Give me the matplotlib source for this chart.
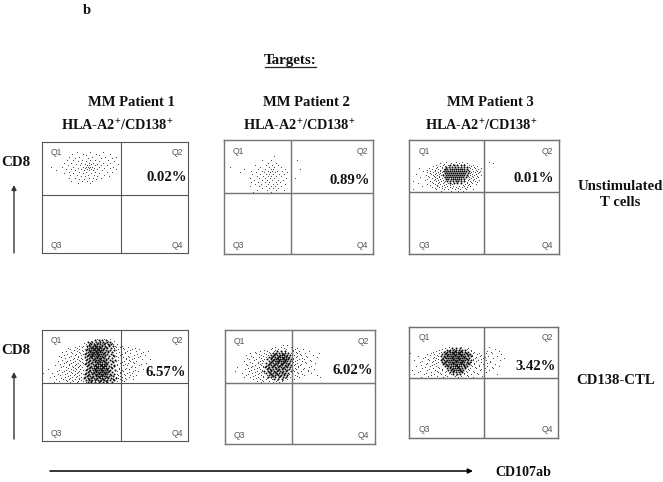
import matplotlib
matplotlib.use('Agg')
import matplotlib.pyplot as plt

W, H = 663, 482
plt.rcParams['font.family'] = ['Liberation Serif', 'DejaVu Serif']
plt.rcParams['mathtext.fontset'] = 'custom'
plt.rcParams['mathtext.rm'] = 'Liberation Serif:bold'
plt.rcParams['mathtext.default'] = 'rm'

# Dots, written row by row: height above panel bottom -> positions from panel left
p1_top_edge = {
    101: [35, 48, 61], 99: [30, 41, 54, 68], 98: [44, 57], 96: [27, 37, 50, 63, 74], 95: [33, 46, 59, 70],
    93: [25, 31, 40, 48, 53, 66], 92: [36, 44, 57, 72], 90: [22, 29, 39, 47, 51, 61, 68], 89: [34, 43, 49, 55, 76],
    88: [26, 38, 45, 47, 53, 59, 65], 86: [9, 20, 31, 41, 44, 46, 48, 50, 57, 71], 85: [36, 43, 47, 52, 62, 68],
    84: [24, 29, 39, 45, 49, 55, 74], 83: [14, 33, 42, 47, 51, 60], 81: [27, 37, 44, 53, 65, 70], 80: [22, 31, 41, 49, 57],
    78: [28, 35, 46, 52, 62], 77: [39, 43, 55, 67], 75: [27, 33, 47, 51, 59], 74: [37, 42, 54], 72: [29, 40, 45, 50], 70: [36, 48],
}
p2_top_edge = {
    98: [50], 94: [38, 47, 73], 91: [44, 52], 89: [31, 42, 48, 54], 87: [0, 6, 36, 45, 50, 57],
    85: [20, 34, 41, 47, 49, 61, 76], 83: [27, 38, 44, 48, 53, 58], 82: [16, 32, 40, 46, 51, 63],
    80: [28, 36, 42, 45, 49, 55, 60], 78: [0, 33, 39, 44, 47, 52, 57], 76: [26, 35, 41, 46, 50, 62, 71],
    74: [30, 38, 43, 48, 54, 59], 72: [27, 34, 41, 45, 52, 56], 70: [31, 37, 44, 49, 53, 61], 68: [26, 35, 42, 47, 51, 57],
    66: [38, 45, 49, 54], 64: [33, 43, 52, 60], 62: [29, 47],
}
p3_top_edge = {
    92: [37, 47, 53, 80], 91: [31, 42, 50, 58, 84], 90: [35, 44, 55], 89: [27, 34, 39, 44, 60, 64], 88: [0, 24, 31, 36, 62, 68],
    87: [28, 33, 60, 65], 86: [0, 10, 20, 27, 33, 37, 61, 66, 72], 85: [0, 23, 29, 35, 63, 69], 84: [18, 26, 31, 59, 67],
    83: [0, 14, 21, 26, 31, 34, 64, 68, 71], 82: [0, 18, 24, 29, 33, 62, 66, 70], 81: [21, 27, 31, 61, 69],
    80: [0, 7, 22, 26, 30, 34, 63, 67], 79: [0, 17, 24, 28, 32, 61, 65, 72], 78: [19, 25, 30, 59, 63, 68],
    77: [0, 11, 20, 26, 30, 35, 60, 64, 69], 76: [0, 23, 28, 33, 62, 67], 75: [18, 26, 31, 60, 65],
    74: [0, 16, 25, 29, 34, 59, 64, 70], 73: [0, 4, 21, 27, 32, 36, 61, 66], 72: [23, 30, 35, 58, 62, 68],
    71: [9, 24, 29, 34, 39, 58, 63], 70: [18, 26, 31, 37, 43, 56, 60, 67], 69: [21, 28, 35, 41, 54, 59],
    68: [13, 28, 33, 38, 44, 50, 55, 61], 67: [23, 30, 36, 41, 47, 53, 58], 66: [26, 33, 43, 49, 56],
    65: [4, 27, 35, 39, 46, 51, 57, 64], 63: [32, 42, 49, 54],
}
p3_top_core = {
    89: [41, 45, 48, 52, 55], 87: [37, 40, 43, 46, 49, 52, 55, 58], 85: [36, 38, 41, 43, 45, 47, 49, 51, 53, 55, 58],
    83: [35, 37, 39, 41, 43, 45, 47, 49, 51, 53, 55, 57, 60], 81: [36, 38, 40, 42, 44, 46, 48, 50, 52, 54, 56, 59],
    79: [34, 37, 39, 41, 43, 45, 47, 49, 51, 53, 55, 58], 77: [36, 38, 40, 42, 44, 46, 48, 50, 52, 54, 57],
    75: [37, 39, 42, 44, 46, 48, 50, 52, 55], 73: [38, 41, 44, 47, 49, 52, 55], 71: [41, 45, 48, 52],
}
p1_bot_edge = {
    102: [55, 62, 68], 100: [49, 58, 66, 72], 98: [42, 52, 60, 70], 97: [44, 47, 71, 75], 95: [37, 41, 73, 80],
    94: [33, 40, 45, 74, 78, 86], 93: [26, 35, 72, 81, 93], 92: [28, 37, 43, 76, 82, 90, 97], 91: [32, 40, 74, 88],
    90: [24, 35, 41, 79, 85, 94, 106], 89: [20, 29, 37, 77, 83, 101], 88: [30, 38, 74, 83, 88, 99], 87: [25, 34, 41, 80, 95],
    86: [22, 33, 39, 78, 92, 103], 85: [17, 29, 36, 74, 86, 98], 84: [19, 27, 36, 43, 76, 81, 87, 96], 83: [23, 32, 39, 84, 92],
    82: [31, 35, 40, 79, 84, 90, 100, 108], 81: [20, 28, 37, 76, 87], 80: [16, 25, 33, 38, 74, 82, 88, 94], 79: [24, 31, 40, 80, 91],
    78: [22, 29, 36, 41, 78, 86, 92, 104], 77: [18, 27, 34, 75, 83, 99], 76: [13, 27, 33, 38, 75, 81, 85, 97], 75: [21, 30, 37, 79, 90],
    74: [19, 24, 31, 36, 40, 79, 89, 93], 73: [26, 33, 77, 84], 72: [6, 29, 34, 38, 77, 83, 87, 101], 71: [17, 24, 31, 41, 80, 93],
    70: [15, 22, 27, 33, 37, 75, 81, 91, 96], 69: [20, 29, 36, 78, 87], 68: [1, 10, 25, 30, 35, 39, 78, 85, 90], 67: [16, 23, 33, 41, 75, 82],
    66: [18, 28, 32, 37, 76, 83, 88, 94], 65: [12, 26, 35, 78, 91], 64: [8, 23, 30, 34, 39, 74, 80, 87], 63: [19, 28, 37, 76, 83],
    62: [14, 21, 27, 33, 37, 78, 84, 91], 61: [24, 30, 39, 80], 60: [17, 25, 31, 36, 41, 75, 82], 59: [12, 28, 35, 44, 79],
}
p1_bot_core = {
    101: [53, 57, 60, 64], 99: [46, 50, 54, 58, 61, 65, 68], 98: [48, 56, 63], 97: [49, 52, 55, 58, 62, 66, 69], 96: [47, 53, 60, 67],
    95: [45, 48, 51, 53, 55, 57, 60, 63, 67, 71], 94: [50, 54, 58, 64], 93: [47, 49, 51, 53, 55, 57, 59, 62, 65, 69], 92: [45, 52, 56, 61],
    91: [44, 47, 49, 51, 53, 55, 57, 59, 61, 64, 68, 72], 90: [48, 54, 58, 66], 89: [46, 48, 50, 52, 54, 56, 58, 60, 63, 66, 70], 88: [44, 51, 55, 62],
    87: [43, 47, 49, 51, 53, 55, 57, 59, 61, 65, 69], 86: [46, 50, 56, 63, 71], 85: [45, 48, 50, 52, 54, 56, 58, 60, 63, 67, 72], 84: [43, 49, 55, 61],
    83: [47, 50, 53, 55, 57, 59, 62, 66, 70], 82: [45, 52, 58, 64], 81: [44, 48, 51, 54, 56, 59, 61, 64, 68, 73], 80: [47, 53, 57, 62, 70],
    79: [46, 50, 53, 55, 58, 60, 63, 66, 71], 78: [44, 49, 56, 64], 77: [43, 47, 51, 54, 56, 58, 60, 62, 65, 69], 76: [46, 53, 59, 63, 72],
    75: [45, 49, 52, 54, 56, 58, 60, 62, 64, 67, 72], 74: [48, 55, 61, 69], 73: [47, 50, 52, 54, 56, 58, 60, 62, 64, 66, 70], 72: [45, 53, 59, 65],
    71: [44, 48, 51, 53, 55, 57, 59, 61, 63, 65, 68, 73], 70: [47, 54, 60, 67], 69: [46, 49, 52, 54, 56, 58, 60, 62, 64, 66, 70], 68: [44, 51, 57, 63],
    67: [43, 47, 50, 53, 55, 57, 59, 61, 63, 65, 68, 72], 66: [46, 54, 60, 69], 65: [45, 48, 51, 54, 56, 58, 60, 62, 64, 67, 71], 64: [43, 50, 57, 65],
    63: [42, 46, 49, 52, 55, 58, 60, 63, 66, 69, 74], 62: [47, 54, 61, 71], 61: [44, 47, 50, 53, 56, 59, 62, 65, 68, 72], 60: [49, 58, 64], 59: [46, 49, 53, 57, 61, 65, 70],
}
p2_bot_edge = {
    99: [58, 62], 97: [50, 56, 66], 96: [47, 59, 72], 95: [46, 53, 61, 70, 78], 94: [39, 50, 68], 93: [35, 42, 49, 68, 74, 84],
    92: [30, 44, 71], 91: [25, 31, 39, 45, 66, 72, 80, 94], 90: [34, 41, 75], 89: [0, 21, 36, 43, 69, 76, 88], 88: [26, 38, 72, 81],
    87: [0, 28, 34, 41, 71, 82, 92], 86: [22, 36, 68, 77], 85: [0, 24, 31, 39, 68, 74, 79], 84: [29, 37, 72, 85], 83: [0, 19, 35, 38, 70, 77, 86],
    82: [25, 33, 68, 80], 81: [0, 27, 33, 37, 72, 81, 90], 80: [21, 35, 70, 76], 79: [0, 22, 30, 36, 69, 75], 78: [27, 38, 73, 86],
    77: [0, 12, 26, 34, 38, 67, 73, 84], 76: [23, 32, 70, 79], 75: [0, 20, 29, 35, 71, 78, 89], 74: [26, 37, 68, 83], 73: [0, 10, 24, 32, 37, 69, 76, 83],
    72: [30, 36, 72], 71: [17, 27, 34, 39, 67, 73, 86], 70: [23, 33, 64, 77], 69: [21, 30, 36, 42, 70, 79, 92], 68: [28, 38, 62, 72],
    67: [19, 25, 33, 38, 65, 74, 95], 66: [31, 42, 60], 65: [28, 35, 41, 47, 62, 69], 64: [37, 52, 58], 63: [32, 38, 44, 51, 57], 62: [36, 48, 54],
}
p2_bot_core = {
    93: [52, 56, 60], 91: [48, 51, 54, 57, 60, 63], 90: [50, 58], 89: [46, 49, 52, 55, 57, 59, 62, 65], 88: [48, 54, 61], 87: [44, 47, 50, 53, 55, 57, 59, 61, 64],
    86: [46, 52, 58, 63], 85: [42, 46, 49, 51, 53, 55, 57, 59, 61, 63, 66], 84: [48, 54, 60], 83: [44, 47, 50, 52, 54, 56, 58, 60, 62, 65], 82: [46, 53, 59],
    81: [41, 45, 48, 51, 53, 56, 58, 61, 64], 80: [44, 50, 57, 63], 79: [43, 46, 49, 52, 55, 57, 60, 63, 66], 78: [41, 48, 54, 61], 77: [40, 44, 47, 50, 53, 56, 59, 62, 65],
    76: [43, 51, 58], 75: [42, 45, 48, 51, 54, 57, 60, 64], 74: [46, 53, 62], 73: [39, 43, 46, 49, 52, 55, 58, 61, 66], 72: [44, 50, 57], 71: [41, 45, 48, 51, 54, 57, 60, 63],
    70: [46, 52, 59], 69: [44, 47, 50, 53, 56, 59, 62], 68: [48, 55], 67: [43, 46, 50, 54, 58, 61], 65: [49, 53, 57],
}
p3_bot_edge = {
    91: [40, 52, 80], 90: [36, 47, 59], 89: [33, 45, 58, 86], 88: [30, 41, 62], 87: [27, 36, 62, 78, 90], 86: [24, 32, 65, 82],
    85: [1, 22, 30, 64, 70, 83, 77], 84: [0, 18, 25, 60, 68, 75, 92], 83: [21, 28, 63, 72], 82: [0, 9, 29, 63, 71, 79, 88], 81: [16, 25, 67, 76],
    80: [0, 14, 24, 27, 66, 74, 84, 95], 79: [19, 29, 64, 72], 78: [0, 5, 20, 26, 64, 69, 77, 91], 77: [13, 24, 67, 81], 76: [0, 11, 23, 29, 62, 72, 81],
    75: [18, 27, 65, 78], 74: [0, 17, 25, 65, 74, 86], 73: [12, 23, 62, 70], 72: [0, 7, 21, 27, 63, 70, 78, 90], 71: [16, 29, 66, 83],
    70: [0, 13, 24, 30, 61, 67, 76, 84], 69: [20, 33, 59, 72], 68: [0, 3, 18, 26, 33, 60, 71, 80], 67: [11, 28, 37, 57, 64],
    66: [9, 22, 29, 36, 58, 65, 77], 65: [17, 31, 40, 55, 68], 64: [5, 15, 25, 32, 42, 55, 62, 69, 88], 63: [22, 36, 47, 58], 62: [19, 28, 38, 46, 52, 59, 73], 61: [12, 34, 49, 64],
}
p3_bot_core = {
    90: [43, 47, 51], 88: [38, 41, 44, 47, 50, 53, 56], 87: [40, 46, 52], 86: [35, 38, 41, 43, 45, 47, 49, 51, 53, 56, 59], 85: [37, 44, 50, 57],
    84: [33, 36, 39, 41, 43, 45, 47, 49, 51, 53, 55, 58, 61], 83: [38, 46, 52, 59], 82: [32, 35, 38, 40, 42, 44, 46, 48, 50, 52, 54, 56, 59, 62], 81: [36, 43, 49, 55],
    80: [34, 37, 39, 41, 43, 45, 47, 49, 51, 53, 55, 57, 60], 79: [33, 44, 50, 58], 78: [32, 35, 38, 40, 42, 44, 46, 48, 50, 52, 54, 56, 59, 62], 77: [37, 47, 53],
    76: [33, 36, 39, 41, 43, 45, 47, 49, 51, 53, 55, 58, 61], 75: [35, 44, 52, 59], 74: [34, 37, 40, 42, 44, 46, 48, 50, 52, 54, 57, 60], 73: [38, 47, 55],
    72: [36, 39, 42, 44, 46, 48, 50, 52, 55, 58], 71: [41, 49, 56], 70: [38, 41, 44, 46, 48, 50, 53, 56], 69: [43, 51], 68: [39, 42, 45, 47, 49, 51, 54], 67: [44, 52],
    66: [41, 44, 47, 50, 53], 64: [44, 48, 51],
}

patients = ['MM Patient 1', 'MM Patient 2', 'MM Patient 3']
percent_top = ['0.02%', '0.89%', '0.01%']
percent_bot = ['6.57%', '6.02%', '3.42%']
quadrants = ['Q1', 'Q2', 'Q3', 'Q4']

# left, top, right, bottom, vline, hline in image pixels, then dots and percent label position
panels = [
    (41.5, 141.5, 188, 253, 121, 195, p1_top_edge, {}, percent_top[0], 166, 176.5, '#555555', 1.0),
    (223.5, 140, 373, 254, 291, 193, p2_top_edge, {}, percent_top[1], 349.5, 179, '#777777', 1.3),
    (409, 140, 558.5, 254, 484, 192, p3_top_edge, p3_top_core, percent_top[2], 533.5, 178, '#707070', 1.3),
    (41.5, 329.5, 188, 441, 121, 383, p1_bot_edge, p1_bot_core, percent_bot[0], 165, 371, '#555555', 1.0),
    (224.5, 330, 374.5, 444, 292, 383, p2_bot_edge, p2_bot_core, percent_bot[1], 352, 369, '#777777', 1.3),
    (409, 327, 558, 438, 484, 378, p3_bot_edge, p3_bot_core, percent_bot[2], 535, 366, '#707070', 1.3),
]


def rows_to_xy(rows):
    xs, ys = [], []
    for y, row in rows.items():
        for x in row:
            xs.append(x)
            ys.append(y)
    return xs, ys


fig = plt.figure(figsize=(W / 100, H / 100), dpi=100, facecolor='white')
bg = fig.add_axes([0, 0, 1, 1])
bg.set_xlim(0, W)
bg.set_ylim(H, 0)
bg.axis('off')


def label(x, y, s, size=10.5, **kw):
    bg.text(x, y + 1, s, ha='center', va='center', fontsize=size, fontweight='bold', color='#111111', zorder=5, **kw)


for left, top, right, bottom, vx, hy, edge, core, pct, px, py, col, lw in panels:
    w = right - left
    h = bottom - top
    ax = fig.add_axes([left / W, 1 - bottom / H, w / W, h / H])
    ax.set_xlim(0, w)
    ax.set_ylim(0, h)
    ax.set_xticks([])
    ax.set_yticks([])
    ax.patch.set_alpha(0)
    for s in ax.spines.values():
        s.set_color(col)
        s.set_linewidth(lw * 0.8)
    ax.axvline(vx - left, color=col, lw=lw * 0.8)
    ax.axhline(bottom - hy, color=col, lw=lw * 0.8)
    ex, ey = rows_to_xy(edge)
    ax.scatter(ex, ey, s=0.6, marker='o', color='#333333', linewidths=0, clip_on=False, snap=False)
    if core:
        cx, cy = rows_to_xy(core)
        ax.scatter(cx, cy, s=2.0, marker='o', color='#0a0a0a', linewidths=0, snap=False)
    for q, qx, qy in zip(quadrants, [15, w - 11, 15, w - 11], [h - 11, h - 11, 8, 8]):
        ax.text(qx, qy, q, ha='center', va='center', fontsize=6.2, color='#555555', family='Liberation Sans')
    label(px + 0.5, py, pct, size=10.6)

label(87, 9, 'b', size=10.5)
label(290.5, 59.5, 'Targets:', size=10.8)
bg.plot([265, 316], [66.8, 66.8], color='#222222', lw=0.9)
for name, x in zip(patients, [131.5, 306, 490.5]):
    label(x, 102, name)
for x in [117.5, 299, 481]:
    label(x, 125.5, 'HLA-A2$^{+}$/CD138$^{+}$', size=10.3)
label(15.5, 162, 'CD8', size=10.8)
label(15.5, 350, 'CD8', size=10.8)
label(620, 186, 'Unstimulated', size=10.6)
label(620, 202, 'T cells', size=10.6)
label(615.5, 379, 'CD138-CTL', size=10.6)
label(523.5, 472, 'CD107ab', size=10.1)

bg.annotate('', xy=(14, 185), xytext=(14, 253), arrowprops=dict(arrowstyle='-|>', color='#333333', lw=1, mutation_scale=7, shrinkA=0, shrinkB=0))
bg.annotate('', xy=(14, 372), xytext=(14, 439), arrowprops=dict(arrowstyle='-|>', color='#333333', lw=1, mutation_scale=7, shrinkA=0, shrinkB=0))
bg.annotate('', xy=(473, 471), xytext=(50, 471), arrowprops=dict(arrowstyle='-|>', color='black', lw=1.1, mutation_scale=7, shrinkA=0, shrinkB=0))

fig.savefig('out.png', dpi=100)
